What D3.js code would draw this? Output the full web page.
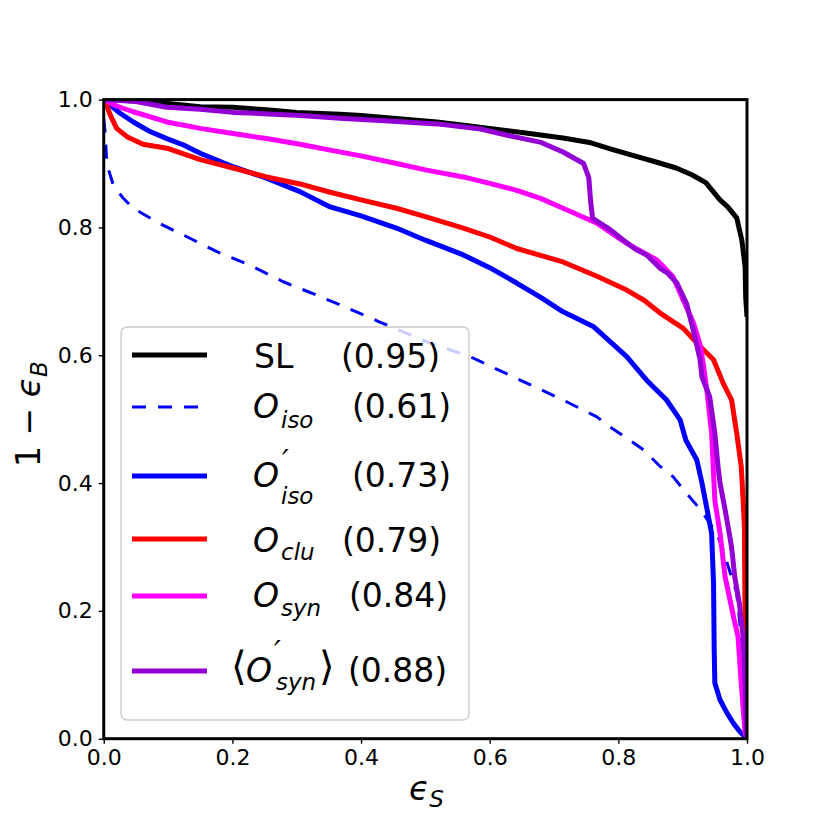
<!DOCTYPE html>
<html lang="en">
<head>
<meta charset="UTF-8">
<title>ROC curves</title>
<style>
  body { margin: 0; background: #fff; }
  svg { display: block; font-family: "DejaVu Sans", sans-serif; }
</style>
</head>
<body>
<script src="https://d3js.org/d3.v7.min.js"></script>
<script>
// curve points: [signal eff, 1 - background eff]
const slPts = [[0,1],[0.05,0.998],[0.1,0.994],[0.15,0.989],[0.2,0.988],[0.253,0.984],[0.3,0.98],[0.367,0.977],[0.4,0.975],[0.45,0.971],[0.518,0.965],[0.56,0.96],[0.6,0.955],[0.653,0.948],[0.714,0.94],[0.755,0.933],[0.79,0.922],[0.821,0.913],[0.86,0.902],[0.89,0.893],[0.915,0.882],[0.936,0.87],[0.958,0.843],[0.97,0.832],[0.984,0.815],[0.992,0.78],[0.997,0.739],[0.998,0.69],[1,0.66]];
const oisoPts = [[0,0.97],[0.002,0.95],[0.005,0.898],[0.015,0.866],[0.03,0.846],[0.046,0.83],[0.087,0.806],[0.124,0.788],[0.176,0.762],[0.227,0.741],[0.279,0.715],[0.331,0.694],[0.367,0.679],[0.429,0.652],[0.507,0.619],[0.569,0.598],[0.637,0.566],[0.714,0.53],[0.766,0.504],[0.787,0.488],[0.818,0.467],[0.839,0.452],[0.865,0.426],[0.885,0.41],[0.906,0.384],[0.928,0.358],[0.953,0.321],[0.963,0.295],[0.974,0.259],[0.984,0.228],[0.992,0.15],[0.997,0.06],[1,0]];
const oisoPrimePts = [[0,1],[0.025,0.979],[0.046,0.965],[0.072,0.95],[0.098,0.939],[0.124,0.929],[0.15,0.916],[0.201,0.895],[0.253,0.877],[0.305,0.856],[0.352,0.832],[0.4,0.818],[0.455,0.799],[0.5,0.78],[0.559,0.757],[0.6,0.737],[0.642,0.713],[0.68,0.69],[0.714,0.668],[0.761,0.645],[0.813,0.598],[0.844,0.561],[0.875,0.53],[0.896,0.499],[0.905,0.467],[0.922,0.436],[0.93,0.4],[0.935,0.374],[0.945,0.321],[0.948,0.243],[0.949,0.139],[0.95,0.087],[0.958,0.061],[0.969,0.04],[0.979,0.024],[0.989,0.011],[0.997,0.003],[1,0]];
const ocluPts = [[0,1],[0.005,0.99],[0.01,0.976],[0.02,0.955],[0.036,0.942],[0.061,0.93],[0.098,0.924],[0.15,0.906],[0.201,0.893],[0.253,0.879],[0.305,0.868],[0.352,0.855],[0.4,0.843],[0.455,0.83],[0.5,0.817],[0.559,0.799],[0.6,0.785],[0.642,0.767],[0.714,0.746],[0.766,0.724],[0.813,0.702],[0.84,0.686],[0.865,0.666],[0.901,0.642],[0.928,0.613],[0.948,0.593],[0.963,0.556],[0.976,0.53],[0.984,0.478],[0.991,0.426],[0.994,0.373],[0.996,0.33],[0.997,0.17],[1,0]];
const osynPts = [[0,1],[0.02,0.99],[0.046,0.981],[0.098,0.965],[0.15,0.955],[0.201,0.947],[0.253,0.939],[0.305,0.93],[0.352,0.921],[0.4,0.912],[0.455,0.9],[0.5,0.89],[0.559,0.879],[0.6,0.869],[0.642,0.858],[0.68,0.845],[0.714,0.83],[0.766,0.807],[0.813,0.775],[0.84,0.76],[0.86,0.749],[0.885,0.723],[0.901,0.686],[0.917,0.65],[0.928,0.613],[0.937,0.551],[0.945,0.478],[0.95,0.373],[0.958,0.322],[0.966,0.253],[0.979,0.191],[0.986,0.16],[0.991,0.087],[0.997,0.009],[1,0]];
const osynPrimePts = [[0,1],[0.05,0.997],[0.098,0.988],[0.15,0.985],[0.201,0.98],[0.248,0.978],[0.305,0.975],[0.367,0.971],[0.45,0.966],[0.518,0.962],[0.586,0.954],[0.637,0.942],[0.68,0.933],[0.714,0.918],[0.746,0.9],[0.754,0.878],[0.757,0.84],[0.76,0.814],[0.788,0.796],[0.808,0.78],[0.828,0.765],[0.844,0.757],[0.865,0.736],[0.876,0.729],[0.891,0.713],[0.906,0.681],[0.919,0.629],[0.927,0.593],[0.93,0.566],[0.942,0.535],[0.95,0.478],[0.955,0.426],[0.958,0.4],[0.966,0.358],[0.976,0.3],[0.981,0.253],[0.988,0.212],[0.994,0.16],[0.997,0.087],[0.999,0.003],[1,0]];

const aucLabels = ["(0.95)", "(0.61)", "(0.73)", "(0.79)", "(0.84)", "(0.88)"];
const xTicks = [0, 0.2, 0.4, 0.6, 0.8, 1.0];
const yTicks = [0, 0.2, 0.4, 0.6, 0.8, 1.0];

const series = [
  {pts: slPts,        color: "#000000", width: 5, dash: null},
  {pts: oisoPts,      color: "#0000ff", width: 3, dash: "14,12"},
  {pts: oisoPrimePts, color: "#0000ff", width: 5, dash: null},
  {pts: ocluPts,      color: "#ff0000", width: 5, dash: null},
  {pts: osynPts,      color: "#ff00ff", width: 5, dash: null},
  {pts: osynPrimePts, color: "#9400d3", width: 5, dash: null}
];

const width = 830, height = 830;
const x = d3.scaleLinear().domain([0, 1]).range([103.75, 747]);
const y = d3.scaleLinear().domain([0, 1]).range([738.7, 99.6]);

const svg = d3.select("body").append("svg")
  .attr("width", width)
  .attr("height", height);

svg.append("defs").append("clipPath").attr("id", "plotclip")
  .append("rect")
    .attr("x", x(0)).attr("y", y(1))
    .attr("width", x(1) - x(0)).attr("height", y(0) - y(1));

const line = d3.line().x(d => x(d[0])).y(d => y(d[1]));

svg.append("g").attr("clip-path", "url(#plotclip)")
  .selectAll("path")
  .data(series)
  .enter().append("path")
    .attr("d", d => line(d.pts))
    .attr("fill", "none")
    .attr("stroke", d => d.color)
    .attr("stroke-width", d => d.width)
    .attr("stroke-dasharray", d => d.dash)
    .attr("stroke-linejoin", "round");

// axes
const fmt = d3.format(".1f");
const xAxis = svg.append("g")
  .attr("transform", `translate(0,${y(0)})`)
  .call(d3.axisBottom(x).tickValues(xTicks).tickFormat(fmt).tickSize(5).tickPadding(6));
const yAxis = svg.append("g")
  .attr("transform", `translate(${x(0)},0)`)
  .call(d3.axisLeft(y).tickValues(yTicks).tickFormat(fmt).tickSize(5).tickPadding(6));

[xAxis, yAxis].forEach(a => {
  a.select(".domain").remove();
  a.selectAll(".tick line").attr("stroke", "#000").attr("stroke-width", 1.4);
  a.selectAll(".tick text")
    .attr("fill", "#000")
    .style("font-family", "DejaVu Sans")
    .style("font-size", "22px");
});

// frame
svg.append("rect")
  .attr("x", x(0)).attr("y", y(1))
  .attr("width", x(1) - x(0)).attr("height", y(0) - y(1))
  .attr("fill", "none")
  .attr("stroke", "#000")
  .attr("stroke-width", 3);

// axis labels
const xl = svg.append("text")
  .attr("x", 409).attr("y", 800)
  .style("font-size", "33px");
xl.append("tspan").style("font-style", "italic").text("ϵ");
xl.append("tspan").attr("dy", 7).style("font-style", "italic").style("font-size", "23px").text("S");

const yl = svg.append("text")
  .attr("transform", "translate(40,467) rotate(-90)")
  .style("font-size", "33px");
yl.append("tspan").text("1 − ");
yl.append("tspan").style("font-style", "italic").text("ϵ");
yl.append("tspan").attr("dy", 7).style("font-style", "italic").style("font-size", "23px").text("B");

// legend
const leg = svg.append("g");
leg.append("rect")
  .attr("x", 121).attr("y", 327)
  .attr("width", 348).attr("height", 393)
  .attr("rx", 6)
  .attr("fill", "#fff").attr("fill-opacity", 0.8)
  .attr("stroke", "#cccccc").attr("stroke-width", 1.4);

const rowLineY = [355, 407, 476, 539, 596, 671];
const rowBase = [368, 418, 487, 552, 607, 682];
const aucX = [341, 352, 352, 342, 349, 348];

leg.selectAll("line.h")
  .data(series)
  .enter().append("line")
    .attr("x1", 132).attr("x2", 207)
    .attr("y1", (d, i) => rowLineY[i]).attr("y2", (d, i) => rowLineY[i])
    .attr("stroke", d => d.color)
    .attr("stroke-width", d => d.width)
    .attr("stroke-dasharray", d => d.dash);

leg.selectAll("text.auc")
  .data(aucLabels)
  .enter().append("text")
    .attr("x", (d, i) => aucX[i]).attr("y", (d, i) => rowBase[i])
    .style("font-size", "33px")
    .text(d => d);

function put(txt, px, py, size, italic) {
  leg.append("text")
    .attr("x", px).attr("y", py)
    .style("font-size", size + "px")
    .style("font-style", italic ? "italic" : "normal")
    .text(txt);
}

put("SL", 254, 368, 33, false);
put("O", 253, 418, 33, true);  put("iso", 281, 428, 23, true);
put("O", 253, 487, 33, true);  put("′", 282, 471, 30, true); put("iso", 281, 504, 23, true);
put("O", 253, 552, 33, true);  put("clu", 281, 560, 23, true);
put("O", 253, 607, 33, true);  put("syn", 281, 616, 23, true);
put("⟨", 231, 680, 40, false);
put("O", 246, 682, 33, true);  put("′", 274, 662, 30, true); put("syn", 276, 690, 23, true);
put("⟩", 319, 680, 40, false);
</script>
</body>
</html>
